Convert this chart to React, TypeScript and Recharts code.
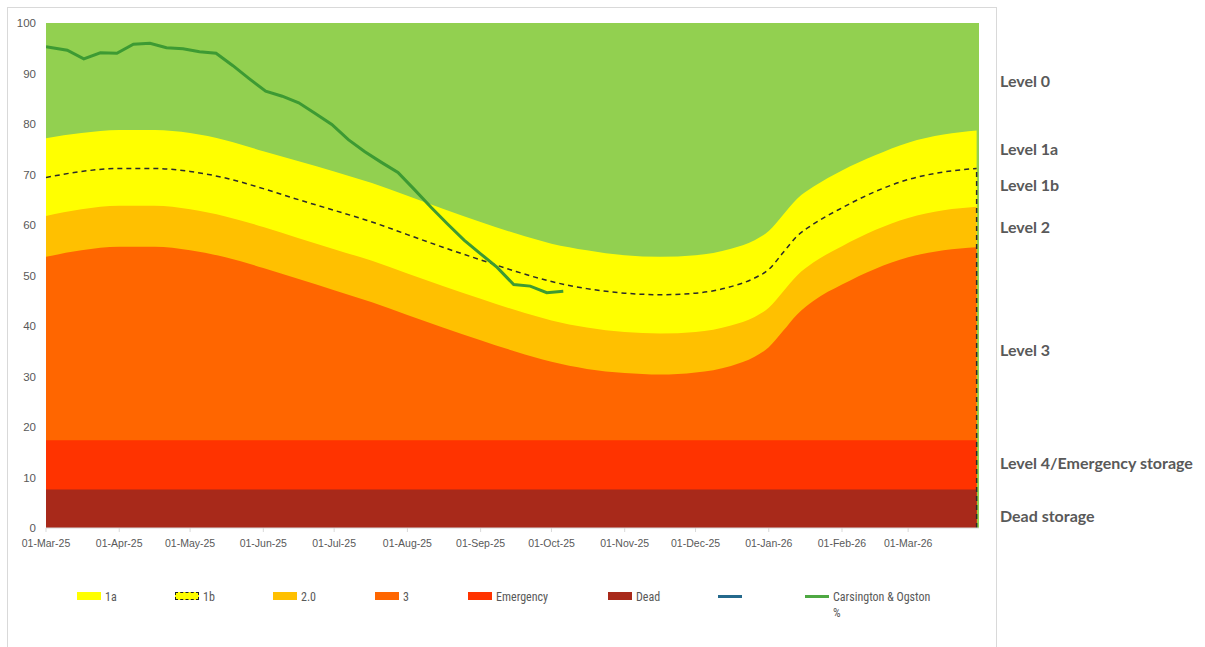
import { ComposedChart, Area, Line, XAxis, YAxis, CartesianGrid, ReferenceLine } from "recharts"

// x values are days since 01-Mar-25
const bandDays = [0, 15, 31, 46, 61, 76, 92, 107, 122, 138, 153, 168, 184, 199, 214, 229, 245, 260, 275, 290, 300, 306, 312, 318, 325, 337, 351, 365, 380, 394]
const level1a = [77.2, 78.2, 78.8, 78.8, 78.2, 76.8, 74.6, 72.6, 70.6, 68.3, 65.8, 63.2, 60.6, 58.3, 56.3, 55.0, 54.0, 53.7, 54.0, 55.3, 57.0, 58.8, 62.0, 65.2, 67.6, 70.8, 73.8, 76.3, 77.9, 78.7]
const level1b = [69.4, 70.6, 71.2, 71.2, 70.6, 69.3, 67.2, 65.0, 62.9, 60.6, 58.1, 55.6, 53.1, 50.8, 48.8, 47.4, 46.5, 46.2, 46.5, 47.8, 49.5, 51.2, 54.5, 57.8, 60.2, 63.4, 66.6, 69.0, 70.5, 71.2]
const level2 = [61.8, 63.1, 63.8, 63.8, 63.1, 61.7, 59.6, 57.4, 55.2, 52.9, 50.4, 47.9, 45.4, 43.1, 41.1, 39.7, 38.8, 38.5, 38.8, 40.1, 41.8, 43.6, 46.8, 50.0, 52.6, 55.8, 59.0, 61.4, 62.9, 63.6]
const level3 = [53.7, 55.0, 55.7, 55.7, 55.0, 53.6, 51.5, 49.3, 47.1, 44.7, 42.2, 39.7, 37.2, 34.9, 32.9, 31.5, 30.7, 30.4, 30.8, 32.1, 33.9, 35.8, 39.0, 42.3, 45.0, 48.2, 51.3, 53.6, 55.0, 55.6]

const storageDays = [0, 394]
const emergency = [17.4, 17.4]
const dead = [7.6, 7.6]

// weekly reservoir stocks
const stockDays = [0, 9, 16, 23, 30, 37, 44, 51, 58, 65, 72, 79, 86, 93, 100, 107, 114, 121, 128, 135, 142, 149, 156, 163, 170, 177, 184, 191, 198, 205, 212, 219]
const stockPct = [95.3, 94.6, 92.9, 94.1, 94.0, 95.8, 96.0, 95.1, 94.9, 94.3, 94.0, 91.6, 89.0, 86.5, 85.5, 84.2, 82.1, 79.9, 76.9, 74.5, 72.4, 70.4, 67.0, 63.5, 60.2, 57.0, 54.3, 51.6, 48.2, 47.9, 46.6, 46.9]

const monthTicks = [0, 31, 61, 92, 122, 153, 184, 214, 245, 275, 306, 337, 365]
const monthLabels = ["01-Mar-25", "01-Apr-25", "01-May-25", "01-Jun-25", "01-Jul-25", "01-Aug-25", "01-Sep-25", "01-Oct-25", "01-Nov-25", "01-Dec-25", "01-Jan-26", "01-Feb-26", "01-Mar-26"]
const pctTicks = [0, 10, 20, 30, 40, 50, 60, 70, 80, 90, 100]

const bandRows = bandDays.map((day, i) => ({
    day,
    l1a: level1a[i],
    l1b: level1b[i],
    l2: level2[i],
    l3: level3[i],
}))
const storageRows = storageDays.map((day, i) => ({ day, emergency: emergency[i], dead: dead[i] }))
const stockRows = stockDays.map((day, i) => ({ day, stock: stockPct[i] }))

const sideLabels = [
    { text: "Level 0", top: 81 },
    { text: "Level 1a", top: 149 },
    { text: "Level 1b", top: 185 },
    { text: "Level 2", top: 227 },
    { text: "Level 3", top: 350 },
    { text: "Level 4/Emergency storage", top: 463 },
    { text: "Dead storage", top: 516 },
]

const legendItems = [
    { name: "1a", left: 77, kind: "box", color: "#FFFF00" },
    { name: "1b", left: 175, kind: "dashed", color: "#FFFF00" },
    { name: "2.0", left: 273, kind: "box", color: "#FFC000" },
    { name: "3", left: 375, kind: "box", color: "#FF6600" },
    { name: "Emergency", left: 468, kind: "box", color: "#FF3300" },
    { name: "Dead", left: 608, kind: "box", color: "#A8291A" },
    { name: "", left: 718, kind: "line", color: "#24698C" },
    { name: "Carsington & Ogston %", left: 805, kind: "line", color: "#4EA842" },
]

const grey = "#595959"
const tickFont = { fill: grey, fontSize: 10.5, fontFamily: "Liberation Sans, Arial, sans-serif" }
const lastBand = bandRows[bandRows.length - 1]

// long legend names break before the last word, like the "%" under "Ogston"
function LegendText({ name }: { name: string }) {
    const cut = name.lastIndexOf(" ")
    if (name.length < 12 || cut < 0) return <>{name}</>
    return (
        <>
            {name.slice(0, cut)}
            <br />
            {name.slice(cut + 1)}
        </>
    )
}

export default function App() {
    return (
        <div style={{ position: "absolute", left: 0, top: 0, width: 1205, height: 647, background: "#fff", overflow: "hidden" }}>
            <div
                style={{
                    position: "absolute",
                    left: 7,
                    top: 7,
                    width: 990,
                    height: 680,
                    border: "1px solid #d9d9d9",
                    boxSizing: "border-box",
                }}
            />
            <div style={{ position: "absolute", left: 0, top: 0 }}>
                <ComposedChart width={1000} height={647} margin={{ top: 23, right: 21, bottom: 89, left: 0 }}>
                    <CartesianGrid fill="#92D050" stroke="none" horizontal={false} vertical={false} />
                    <XAxis
                        type="number"
                        dataKey="day"
                        domain={[0, 395]}
                        ticks={monthTicks}
                        tickFormatter={(v: number) => monthLabels[monthTicks.indexOf(v)] ?? ""}
                        tick={tickFont}
                        axisLine={{ stroke: "#d9d9d9" }}
                        tickLine={{ stroke: "#d9d9d9" }}
                        tickSize={4}
                        tickMargin={8}
                        height={30}
                        allowDataOverflow
                    />
                    <YAxis
                        type="number"
                        domain={[0, 100]}
                        ticks={pctTicks}
                        tick={{ ...tickFont, fontSize: 11.5 }}
                        axisLine={false}
                        tickLine={false}
                        tickSize={0}
                        tickMargin={10}
                        width={46}
                    />
                    <Area data={bandRows} dataKey="l1a" type="monotone" fill="#FFFF00" fillOpacity={1} stroke="none" dot={false} activeDot={false} isAnimationActive={false} />
                    <Area data={bandRows} dataKey="l1b" type="monotone" fill="#FFFF00" fillOpacity={1} stroke="#2b2b2b" strokeWidth={1.5} strokeDasharray="5 4" dot={false} activeDot={false} isAnimationActive={false} />
                    <Area data={bandRows} dataKey="l2" type="monotone" fill="#FFC000" fillOpacity={1} stroke="none" dot={false} activeDot={false} isAnimationActive={false} />
                    <Area data={bandRows} dataKey="l3" type="monotone" fill="#FF6600" fillOpacity={1} stroke="none" dot={false} activeDot={false} isAnimationActive={false} />
                    <Area data={storageRows} dataKey="emergency" type="linear" fill="#FF3300" fillOpacity={1} stroke="none" dot={false} activeDot={false} isAnimationActive={false} />
                    <Area data={storageRows} dataKey="dead" type="linear" fill="#A8291A" fillOpacity={1} stroke="none" dot={false} activeDot={false} isAnimationActive={false} />
                    <ReferenceLine
                        segment={[
                            { x: lastBand.day, y: 0 },
                            { x: lastBand.day, y: lastBand.l1b },
                        ]}
                        stroke="#2b2b2b"
                        strokeWidth={1.5}
                        strokeDasharray="5 4"
                    />
                    <Line data={stockRows} dataKey="stock" type="linear" stroke="#3D9A33" strokeWidth={3} dot={false} activeDot={false} isAnimationActive={false} />
                </ComposedChart>
            </div>

            {legendItems.map((item) => (
                <div key={item.left} style={{ position: "absolute", left: item.left, top: 589, display: "flex", alignItems: "flex-start" }}>
                    {item.kind === "line" ? (
                        <div style={{ width: 24, height: 3, marginTop: 6, background: item.color }} />
                    ) : (
                        <div
                            style={{
                                width: 24,
                                height: 8,
                                marginTop: 3,
                                background: item.color,
                                boxSizing: "border-box",
                                border: item.kind === "dashed" ? "1.5px dashed #222" : "none",
                            }}
                        />
                    )}
                    <span
                        style={{
                            marginLeft: 4,
                            fontFamily: "Liberation Sans Narrow, Roboto Condensed, Liberation Sans, sans-serif",
                            fontSize: 12,
                            lineHeight: "16px",
                            color: grey,
                            whiteSpace: "nowrap",
                        }}
                    >
                        <LegendText name={item.name} />
                    </span>
                </div>
            ))}

            {sideLabels.map((l) => (
                <div
                    key={l.text}
                    style={{
                        position: "absolute",
                        left: 1000,
                        top: l.top - 11,
                        fontFamily: "Lato, Open Sans, sans-serif",
                        fontWeight: 700,
                        fontSize: 16,
                        lineHeight: "22px",
                        color: grey,
                        whiteSpace: "nowrap",
                    }}
                >
                    {l.text}
                </div>
            ))}
        </div>
    )
}
